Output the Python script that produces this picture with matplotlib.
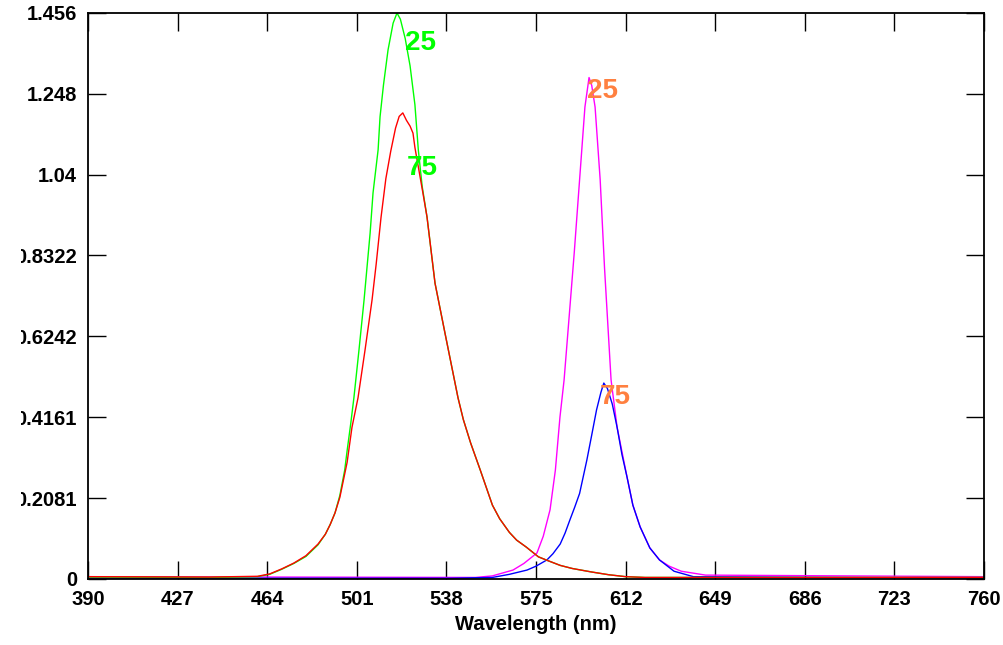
import matplotlib
matplotlib.use("Agg")
import matplotlib.pyplot as plt
from matplotlib.transforms import Bbox, TransformedBbox

# spectra (wavelength nm, intensity)
green_wl = [390, 440, 460, 465, 470, 475, 480, 485, 488, 490, 492, 494, 496, 497,
            498.5, 499.8, 501.9, 504, 506.5, 507.7, 509.8, 510.6, 512, 513.9, 516,
            517.6, 519, 521, 523, 525, 526.4, 528, 530, 533.3, 537.4, 542.8, 545,
            548, 550, 552, 554.5, 557, 560, 564, 567, 571, 576, 580, 585, 590, 598,
            605, 612, 620, 760]
green_val = [0.005, 0.004, 0.006, 0.012, 0.025, 0.04, 0.058, 0.088, 0.115, 0.14,
             0.17, 0.215, 0.28, 0.33, 0.40, 0.466, 0.589, 0.718, 0.89, 0.993,
             1.104, 1.189, 1.27, 1.361, 1.43, 1.456, 1.44, 1.39, 1.32, 1.22, 1.104,
             1.01, 0.931, 0.761, 0.633, 0.466, 0.41, 0.35, 0.315, 0.28, 0.235, 0.19,
             0.155, 0.12, 0.10, 0.082, 0.057, 0.047, 0.035, 0.027, 0.018, 0.011,
             0.006, 0.004, 0.004]

red_wl = [390, 440, 460, 465, 470, 475, 480, 485, 488, 490, 492, 494, 497, 499,
          501.5, 504.4, 507.3, 509, 511, 513, 515, 517, 518.5, 520, 521.5, 523,
          524.2, 525, 528.3, 530, 533.3, 537.4, 542.8, 545, 548, 550, 552, 554.5,
          557, 560, 564, 567, 571, 576, 580, 585, 590, 598, 605, 612, 620, 760]
red_val = [0.006, 0.005, 0.007, 0.013, 0.026, 0.041, 0.06, 0.09, 0.115, 0.14,
           0.17, 0.21, 0.30, 0.39, 0.466, 0.589, 0.718, 0.81, 0.93, 1.03, 1.10,
           1.16, 1.19, 1.199, 1.18, 1.165, 1.147, 1.11, 0.993, 0.931, 0.761, 0.633,
           0.466, 0.41, 0.35, 0.315, 0.28, 0.235, 0.19, 0.155, 0.12, 0.10, 0.082,
           0.057, 0.047, 0.035, 0.027, 0.018, 0.011, 0.006, 0.004, 0.004]

magenta_wl = [390, 550, 557, 565.5, 570, 575.4, 578, 580.8, 583, 584.9, 586.6,
              588.5, 590.8, 593, 595.2, 596.9, 598, 599.4, 601.5, 603.3, 606,
              608.5, 612.6, 615, 618, 622, 626, 630, 635, 645, 760]
magenta_val = [0.006, 0.004, 0.008, 0.023, 0.04, 0.067, 0.11, 0.178, 0.28, 0.4168,
               0.512, 0.66, 0.84, 1.027, 1.214, 1.29, 1.27, 1.214, 1.027, 0.80,
               0.512, 0.39, 0.262, 0.19, 0.134, 0.08, 0.049, 0.033, 0.02, 0.01,
               0.006]

blue_wl = [390, 540, 557, 564, 571.3, 575, 579.5, 582, 585, 587, 589, 591, 593, 596,
           598, 600, 601.8, 603, 604.5, 606.5, 608.5, 610.5, 612.6, 615, 618, 622,
           626, 632, 640, 760]
blue_val = [0.002, 0.002, 0.004, 0.012, 0.023, 0.033, 0.049, 0.065, 0.09, 0.118,
            0.152, 0.185, 0.22, 0.306, 0.37, 0.435, 0.48, 0.504, 0.49, 0.45, 0.39,
            0.32, 0.262, 0.19, 0.134, 0.08, 0.049, 0.02, 0.006, 0.002]

x_ticks = [390, 427, 464, 501, 538, 575, 612, 649, 686, 723, 760]
y_ticks = [0, 0.2081, 0.4161, 0.6242, 0.8322, 1.04, 1.248, 1.456]
y_tick_labels = ["0", "0.2081", "0.4161", "0.6242", "0.8322", "1.04", "1.248", "1.456"]

# peak labels: (text, x, y, colour)
peak_labels = [("25", 520.9, 1.379, "#00ff00"),
               ("75", 521.7, 1.057, "#00ff00"),
               ("25", 596.1, 1.2555, "#ff8040"),
               ("75", 601.4, 0.467, "#ff8040")]

plt.rcParams['font.family'] = ['Liberation Sans', 'DejaVu Sans']

fig = plt.figure(figsize=(10.04, 6.45), dpi=100)
ax = fig.add_axes([88 / 1004, 1 - 579 / 645, 896 / 1004, 566 / 645])

ax.plot(magenta_wl, magenta_val, color="#ff00ff", lw=1.0)
ax.plot(blue_wl, blue_val, color="#0000ff", lw=1.0)
ax.plot(green_wl, green_val, color="#00ff00", lw=1.0)
ax.plot(red_wl, red_val, color="#ff0000", lw=1.0)

for txt, x, y, c in peak_labels:
    ax.text(x, y, txt, color=c, fontsize=20, fontweight="bold",
            ha="left", va="center")

ax.set_xlim(390, 760)
ax.set_ylim(0, 1.456)
ax.set_xticks(x_ticks)
ax.set_yticks(y_ticks)
ax.set_yticklabels(y_tick_labels)
ax.tick_params(direction="in", length=13, width=1, top=True, right=True,
               labelsize=14.5, pad=8, colors="black")
for lab in ax.get_xticklabels() + ax.get_yticklabels():
    lab.set_fontweight("bold")

# the original cuts the long y labels at its left edge
clip = TransformedBbox(Bbox([[21 / 1004, 0], [1, 1]]), fig.transFigure)
for lab in ax.get_yticklabels():
    lab.set_clip_on(True)
    lab.set_clip_box(clip)

for sp in ax.spines.values():
    sp.set_linewidth(1.3)

ax.set_xlabel("Wavelength (nm)", fontsize=14.5, fontweight="bold", labelpad=4)

fig.savefig("out.png", dpi=100)
